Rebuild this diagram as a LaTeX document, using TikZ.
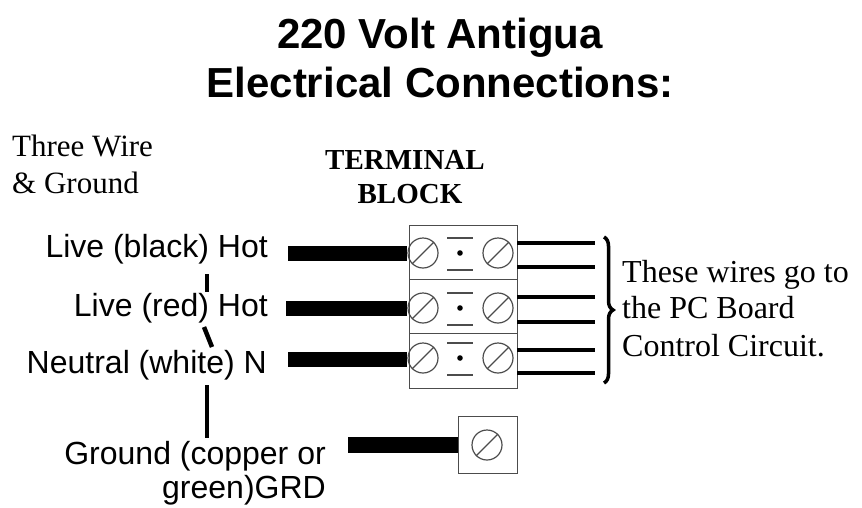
\documentclass[tikz,border=0pt]{standalone}
\usepackage{fontspec}
\setmainfont{Liberation Serif}
\newfontfamily\arialfont{Liberation Sans}
\usetikzlibrary{decorations.pathreplacing}
\tikzset{
  lbl/.style={anchor=base east,inner sep=0pt,font=\arialfont\fontsize{32}{34}\selectfont},
  ttl/.style={anchor=base,inner sep=0pt,font=\arialfont\bfseries\fontsize{42}{49}\selectfont},
  serifl/.style={anchor=base west,inner sep=0pt,font=\fontsize{31}{37}\selectfont},
  tbl/.style={anchor=base,inner sep=0pt,font=\bfseries\fontsize{29}{34}\selectfont},
  fatwire/.style={line width=15pt},
  thinwire/.style={line width=4pt},
  blockline/.style={line width=1pt,draw=black!70},
  screw/.style={circle,draw=black!70,line width=1.2pt,minimum size=30pt,inner sep=0pt},
  vline/.style={line width=4.5pt},
}
\begin{document}
\begin{tikzpicture}[x=1pt,y=-1pt]
\useasboundingbox (0,0) rectangle (862,507);
% titles
\node[ttl] (t1) at (440,48) {220 Volt Antigua};
\node[ttl] (t2) at (440,97) {Electrical Connections:};
\node[serifl] (tw1) at (12,156) {Three Wire};
\node[serifl] (tw2) at (12,193) {\& Ground};
\node[tbl] (tb1) at (405,169) {TERMINAL};
\node[tbl] (tb2) at (410,203) {BLOCK};
% labels
\node[lbl] (l1) at (268,257) {Live (black) Hot};
\node[lbl] (l2) at (268,316) {Live (red) Hot};
\node[lbl] (l3) at (267,373) {Neutral (white) N};
\node[lbl] (l4) at (326,464) {Ground (copper or};
\node[lbl] (l5) at (326,498) {green)GRD};
% vertical fragments
\coordinate (v1a) at (207,274); \coordinate (v1b) at (207,292);
\coordinate (v2a) at (204,327); \coordinate (v2b) at (212,347);
\coordinate (v3a) at (207,385); \coordinate (v3b) at (207,438);
\draw[vline] (v1a) -- (v1b);
\draw[vline] (v2a) -- (v2b);
\draw[vline] (v3a) -- (v3b);
% terminal block
\node[blockline,draw,minimum width=108pt,minimum height=54pt,inner sep=0pt] (r1) at (463,252) {};
\node[blockline,draw,minimum width=108pt,minimum height=54pt,inner sep=0pt] (r2) at (463,306) {};
\node[blockline,draw,minimum width=108pt,minimum height=55pt,inner sep=0pt] (r3) at (463,360.5) {};
\foreach \i/\y in {1/253,2/308,3/358}{
  \node[screw] (sl\i) at (423,\y) {};
  \node[screw] (sr\i) at (498,\y) {};
  \draw[line width=1.2pt,draw=black!70] (sl\i.225) -- (sl\i.45);
  \draw[line width=1.2pt,draw=black!70] (sr\i.225) -- (sr\i.45);
  \fill (460,\y) circle (2.8pt);
  \draw[line width=1.2pt,draw=black!70] (447,\y-15) -- (473,\y-15);
  \draw[line width=1.2pt,draw=black!70] (447,\y+17) -- (473,\y+17);
}
% fat wires
\coordinate (w1) at (288,253); \coordinate (w2) at (286,308); \coordinate (w3) at (288,359);
\draw[fatwire] (w1) -- (w1 -| sl1.west);
\draw[fatwire] (w2) -- (w2 -| sl2.west);
\draw[fatwire] (w3) -- (w3 -| sl3.west);
% thin wires out
\foreach \y [count=\k] in {243,267,297,322,350,373}{
  \coordinate (o\k) at (595,\y);
  \draw[thinwire] (517,\y) -- (o\k);
}
% brace
\coordinate (bt) at (604,237);
\coordinate (bb) at (604,383);
\draw[line width=3.5pt,decorate,decoration={brace,amplitude=9pt}] (bt) -- (bb);
\node[serifl,font=\fontsize{32}{37}\selectfont] (p1) at (622,282) {These wires go to};
\node[serifl,font=\fontsize{32}{37}\selectfont] (p2) at (622,318) {the PC Board};
\node[serifl,font=\fontsize{32}{37}\selectfont] (p3) at (622,356) {Control Circuit.};
% ground terminal
\node[blockline,draw,minimum width=59pt,minimum height=57pt,inner sep=0pt] (g) at (487.5,445) {};
\node[screw] (gs) at (487,445) {};
\draw[line width=1.2pt,draw=black!70] (gs.225) -- (gs.45);
\coordinate (gw) at (348,445);
\draw[line width=16pt] (gw) -- (gw -| g.west);
\end{tikzpicture}
\end{document}
